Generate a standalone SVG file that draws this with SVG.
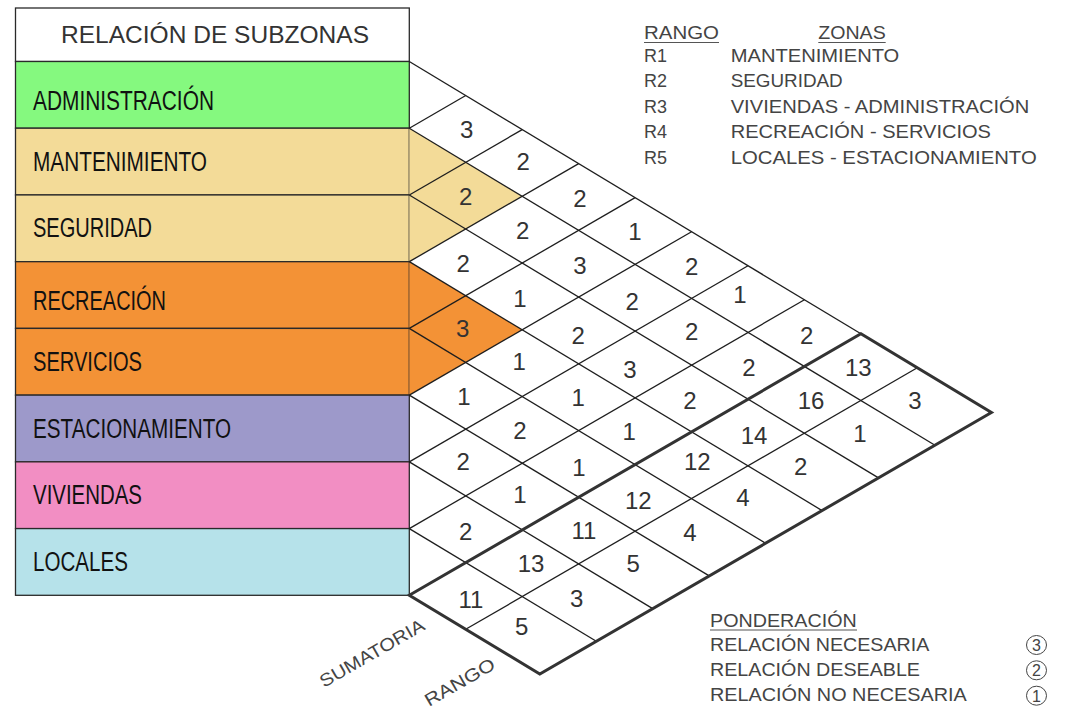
<svg xmlns="http://www.w3.org/2000/svg" width="1066" height="713" viewBox="0 0 1066 713">
<style>
.box{stroke:#2a2a2a;stroke-width:1.3}
.lbl{font-family:"Liberation Sans Narrow","Liberation Sans",Arial,sans-serif;font-size:27px;fill:#111}
.hdr{font-family:"Liberation Sans",Arial,sans-serif;font-size:23px;fill:#333}
.thin{stroke:#1e1e1e;stroke-width:1.3;fill:none}
.thick{stroke:#333;stroke-width:3;fill:none;stroke-linejoin:miter}
.num{font-family:"Liberation Sans",Arial,sans-serif;font-size:24px;fill:#333;text-anchor:middle}
.leg{font-family:"Liberation Sans",Arial,sans-serif;font-size:18px;fill:#444}
.ul{stroke:#555;stroke-width:1}
.circ{fill:none;stroke:#444;stroke-width:1}
.cd{font-family:"Liberation Sans",Arial,sans-serif;font-size:16px;fill:#444;text-anchor:middle}
</style>
<rect width="1066" height="713" fill="#fff"/>

<g id="header">
<rect class="box" x="15.5" y="8" width="393.8" height="53.5" fill="#fff"/>
<text class="hdr" x="61" y="43.3" textLength="308" lengthAdjust="spacingAndGlyphs">RELACIÓN DE SUBZONAS</text>
</g>

<g id="row-administracion">
<rect class="box" x="15.5" y="61.5" width="393.8" height="66.7" fill="#85F97F"/>
<text class="lbl" x="33" y="110" textLength="181" lengthAdjust="spacingAndGlyphs">ADMINISTRACIÓN</text>
</g>
<g id="row-mantenimiento">
<rect class="box" x="15.5" y="128.2" width="393.8" height="66.75" fill="#F3DB98"/>
<text class="lbl" x="33" y="170.7" textLength="174" lengthAdjust="spacingAndGlyphs">MANTENIMIENTO</text>
</g>
<g id="row-seguridad">
<rect class="box" x="15.5" y="194.95" width="393.8" height="66.73" fill="#F3DB98"/>
<text class="lbl" x="33" y="237.3" textLength="119" lengthAdjust="spacingAndGlyphs">SEGURIDAD</text>
</g>
<g id="row-recreacion">
<rect class="box" x="15.5" y="261.68" width="393.8" height="66.72" fill="#F39236"/>
<text class="lbl" x="33" y="310" textLength="133" lengthAdjust="spacingAndGlyphs">RECREACIÓN</text>
</g>
<g id="row-servicios">
<rect class="box" x="15.5" y="328.4" width="393.8" height="66.73" fill="#F39236"/>
<text class="lbl" x="33" y="370.7" textLength="109" lengthAdjust="spacingAndGlyphs">SERVICIOS</text>
</g>
<g id="row-estacionamiento">
<rect class="box" x="15.5" y="395.13" width="393.8" height="66.72" fill="#9D99CA"/>
<text class="lbl" x="33" y="437.7" textLength="198" lengthAdjust="spacingAndGlyphs">ESTACIONAMIENTO</text>
</g>
<g id="row-viviendas">
<rect class="box" x="15.5" y="461.85" width="393.8" height="66.73" fill="#F28EC3"/>
<text class="lbl" x="33" y="504.3" textLength="109" lengthAdjust="spacingAndGlyphs">VIVIENDAS</text>
</g>
<g id="row-locales">
<rect class="box" x="15.5" y="528.58" width="393.8" height="66.72" fill="#B6E2EA"/>
<text class="lbl" x="33" y="571" textLength="95" lengthAdjust="spacingAndGlyphs">LOCALES</text>
</g>

<g id="highlights">
<polygon points="409.3,128.2 522.2,196.3 409.3,261.7" fill="#F3DB98"/>
<polygon points="409.3,261.7 522.2,329.8 409.3,395.1" fill="#F39236"/>
</g>

<g id="connectors">
<g class="thin">
<line x1="409.3" y1="61.5" x2="860.9" y2="333.8"/>
<line x1="409.3" y1="128.2" x2="935.0" y2="445.2"/>
<line x1="409.3" y1="194.95" x2="878.5" y2="477.9"/>
<line x1="409.3" y1="261.68" x2="822.1" y2="510.6"/>
<line x1="409.3" y1="328.4" x2="765.6" y2="543.3"/>
<line x1="409.3" y1="395.13" x2="709.2" y2="575.9"/>
<line x1="409.3" y1="461.85" x2="652.7" y2="608.6"/>
<line x1="409.3" y1="528.58" x2="596.3" y2="641.3"/>
<line x1="409.3" y1="128.2" x2="465.75" y2="95.54"/>
<line x1="409.3" y1="194.95" x2="522.2" y2="129.58"/>
<line x1="409.3" y1="261.68" x2="578.65" y2="163.62"/>
<line x1="409.3" y1="328.4" x2="635.1" y2="197.66"/>
<line x1="409.3" y1="395.13" x2="691.55" y2="231.7"/>
<line x1="409.3" y1="461.85" x2="748.0" y2="265.74"/>
<line x1="409.3" y1="528.58" x2="804.45" y2="299.78"/>
<line x1="465.7" y1="629.3" x2="917.3" y2="367.8"/>
</g>
<path class="thick" d="M409.3,595.3 L860.9,333.8 L991.4,412.5 L539.8,674.0 Z"/>
</g>

<g id="cells">
<text class="num" x="466.7" y="137.9">3</text>
<text class="num" x="465.7" y="205.3">2</text>
<text class="num" x="463.3" y="271.9">2</text>
<text class="num" x="462.7" y="336.9">3</text>
<text class="num" x="464" y="405.3">1</text>
<text class="num" x="463.3" y="470.3">2</text>
<text class="num" x="465.7" y="540.3">2</text>
<text class="num" x="523.3" y="170.3">2</text>
<text class="num" x="522.7" y="238.6">2</text>
<text class="num" x="520" y="306.9">1</text>
<text class="num" x="519.3" y="369.6">1</text>
<text class="num" x="520" y="438.6">2</text>
<text class="num" x="520" y="502.6">1</text>
<text class="num" x="580" y="206.9">2</text>
<text class="num" x="580" y="273.6">3</text>
<text class="num" x="578.3" y="343.6">2</text>
<text class="num" x="578.3" y="405.9">1</text>
<text class="num" x="579" y="475.9">1</text>
<text class="num" x="635" y="240.3">1</text>
<text class="num" x="632.3" y="310.3">2</text>
<text class="num" x="630" y="377.9">3</text>
<text class="num" x="629.3" y="440.3">1</text>
<text class="num" x="691.7" y="275.3">2</text>
<text class="num" x="691.7" y="340.3">2</text>
<text class="num" x="690" y="408.6">2</text>
<text class="num" x="740" y="302.6">1</text>
<text class="num" x="749" y="375.9">2</text>
<text class="num" x="806.7" y="343.6">2</text>
<text class="num" x="858.3" y="376.3">13</text>
<text class="num" x="811" y="408.6">16</text>
<text class="num" x="754" y="443.6">14</text>
<text class="num" x="697.3" y="470.3">12</text>
<text class="num" x="638.3" y="508.6">12</text>
<text class="num" x="584" y="538.6">11</text>
<text class="num" x="531" y="571.9">13</text>
<text class="num" x="471" y="607.9">11</text>
<text class="num" x="915" y="409.3">3</text>
<text class="num" x="860" y="441.9">1</text>
<text class="num" x="800.7" y="475.3">2</text>
<text class="num" x="743" y="505.6">4</text>
<text class="num" x="690" y="540.6">4</text>
<text class="num" x="633.3" y="571.9">5</text>
<text class="num" x="576.7" y="606.9">3</text>
<text class="num" x="521.7" y="635.3">5</text>
</g>

<g id="axis-labels">
<text class="leg" transform="translate(324,688) rotate(-30)" textLength="118" lengthAdjust="spacingAndGlyphs">SUMATORIA</text>
<text class="leg" transform="translate(429,707) rotate(-30)" textLength="78" lengthAdjust="spacingAndGlyphs">RANGO</text>
</g>

<g id="legend-rango">
<text class="leg" x="644" y="39.3" textLength="75" lengthAdjust="spacingAndGlyphs">RANGO</text>
<line class="ul" x1="644" y1="42.5" x2="719" y2="42.5"/>
<text class="leg" x="818.3" y="39.3" textLength="67.4" lengthAdjust="spacingAndGlyphs">ZONAS</text>
<line class="ul" x1="818.3" y1="42.5" x2="885.7" y2="42.5"/>
<text class="leg" x="644" y="61.7">R1</text>
<text class="leg" x="644" y="87.3">R2</text>
<text class="leg" x="644" y="112.7">R3</text>
<text class="leg" x="644" y="138.3">R4</text>
<text class="leg" x="644" y="164">R5</text>
<text class="leg" x="730.7" y="61.7" textLength="168.6" lengthAdjust="spacingAndGlyphs">MANTENIMIENTO</text>
<text class="leg" x="730.7" y="87.3" textLength="112" lengthAdjust="spacingAndGlyphs">SEGURIDAD</text>
<text class="leg" x="730.7" y="112.7" textLength="298.6" lengthAdjust="spacingAndGlyphs">VIVIENDAS - ADMINISTRACIÓN</text>
<text class="leg" x="730.7" y="138.3" textLength="260.3" lengthAdjust="spacingAndGlyphs">RECREACIÓN - SERVICIOS</text>
<text class="leg" x="730.7" y="164" textLength="306" lengthAdjust="spacingAndGlyphs">LOCALES - ESTACIONAMIENTO</text>
</g>

<g id="legend-ponderacion">
<text class="leg" x="710" y="626.7" textLength="146.7" lengthAdjust="spacingAndGlyphs">PONDERACIÓN</text>
<line class="ul" x1="710" y1="630" x2="857" y2="630"/>
<text class="leg" x="710" y="650.7" textLength="219.3" lengthAdjust="spacingAndGlyphs">RELACIÓN NECESARIA</text>
<text class="leg" x="710" y="676" textLength="210" lengthAdjust="spacingAndGlyphs">RELACIÓN DESEABLE</text>
<text class="leg" x="710" y="700.7" textLength="256.7" lengthAdjust="spacingAndGlyphs">RELACIÓN NO NECESARIA</text>
<ellipse class="circ" cx="1036.5" cy="645" rx="10" ry="9.5"/>
<text class="cd" x="1036.5" y="650.8">3</text>
<ellipse class="circ" cx="1036.5" cy="670.3" rx="10" ry="9.5"/>
<text class="cd" x="1036.5" y="676.1">2</text>
<ellipse class="circ" cx="1036.5" cy="695.7" rx="10" ry="9.5"/>
<text class="cd" x="1036.5" y="701.5">1</text>
</g>
</svg>
